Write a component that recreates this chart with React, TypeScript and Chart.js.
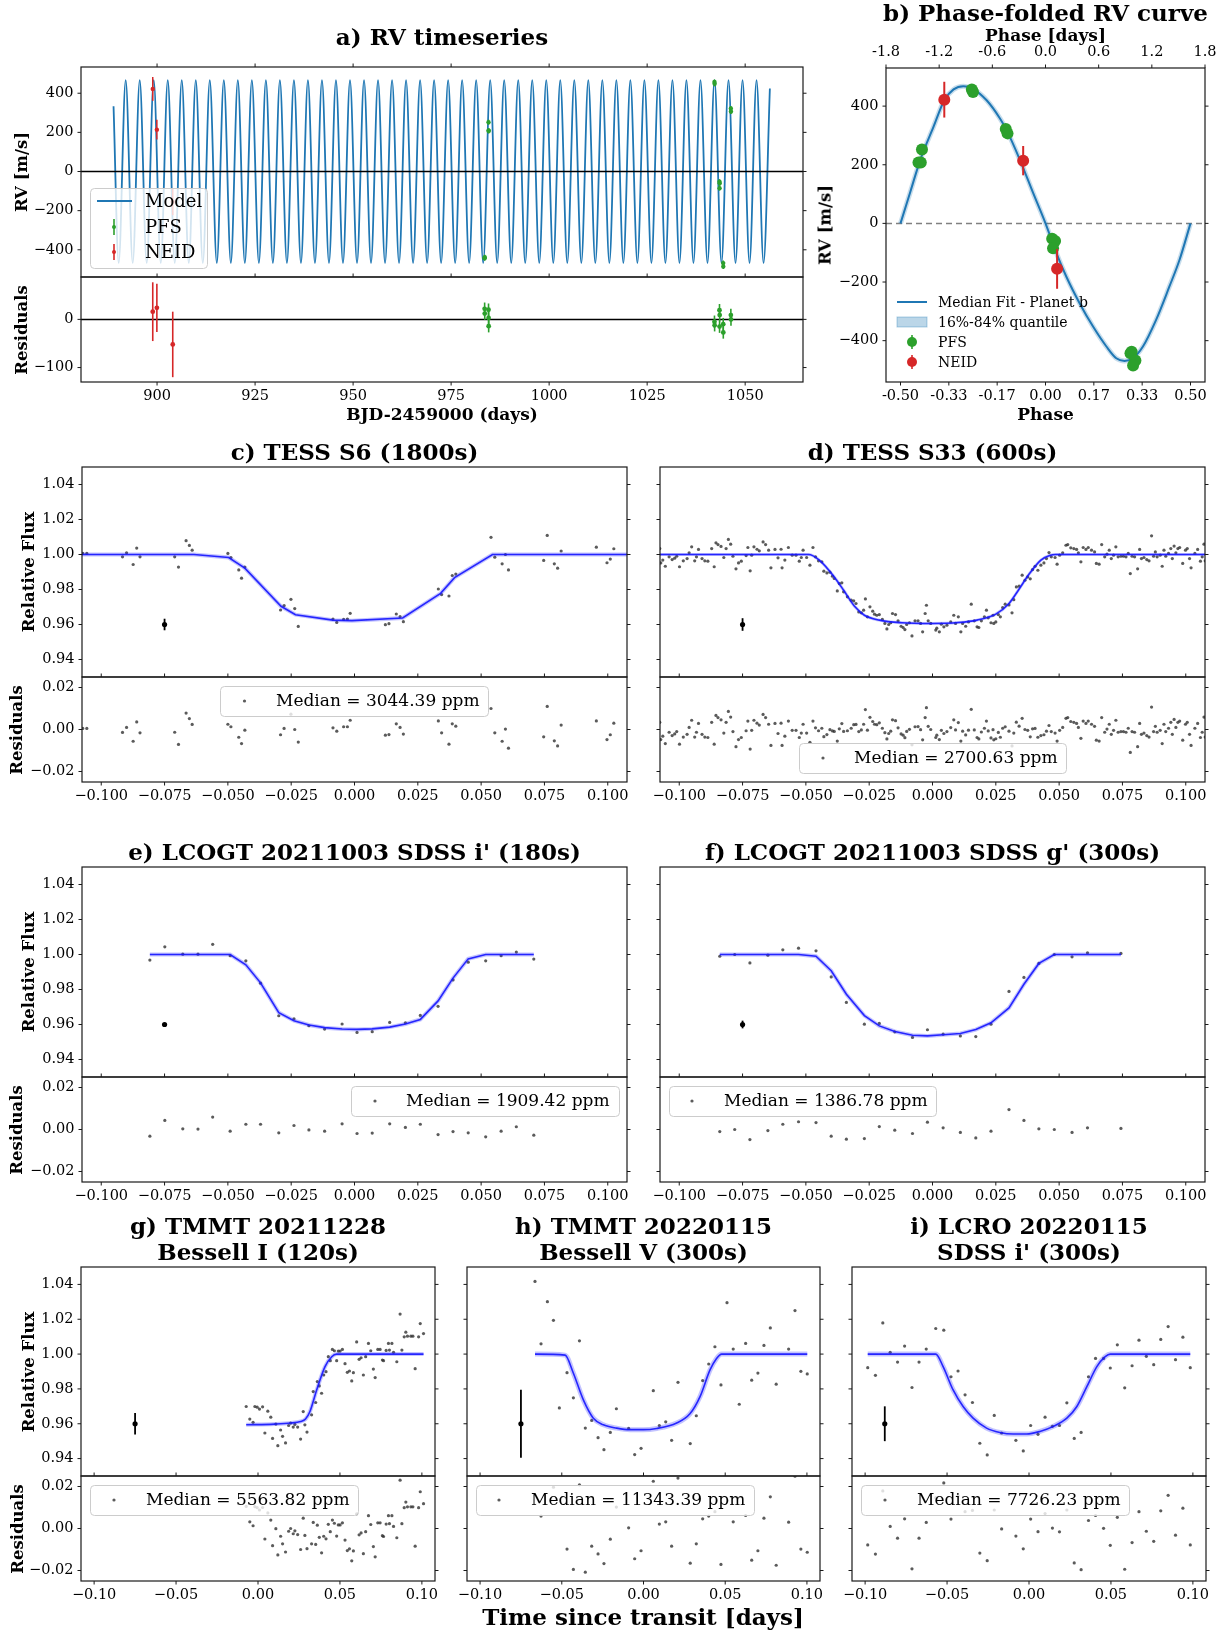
import React, { useEffect, useRef } from "react";
import { Chart, registerables } from "chart.js";

Chart.register(...registerables);

const SERIF = "'DejaVu Serif', 'Liberation Serif', serif";
const C0 = "#1f77b4";
const GREEN = "#2ca02c";
const RED = "#d62728";
const DOT = "rgba(45,45,45,0.78)";
const MODEL = "rgba(20,20,255,0.9)";
const BAND = "rgba(40,40,255,0.28)";

// ---------------- a) RV timeseries ----------------
const aXTicks = [900, 925, 950, 975, 1000, 1025, 1050];
const aYTicks = [-400, -200, 0, 200, 400];
const aResTicks = [-100, 0];
const aModelT = [888.90, 890.21,
  892.00, 893.79, 895.58, 897.36, 899.15, 900.94, 902.73, 904.51, 906.30, 908.09,
  909.88, 911.67, 913.45, 915.24, 917.03, 918.82, 920.60, 922.39, 924.18, 925.97,
  927.76, 929.54, 931.33, 933.12, 934.91, 936.70, 938.48, 940.27, 942.06, 943.85,
  945.63, 947.42, 949.21, 951.00, 952.79, 954.57, 956.36, 958.15, 959.94, 961.72,
  963.51, 965.30, 967.09, 968.88, 970.66, 972.45, 974.24, 976.03, 977.81, 979.60,
  981.39, 983.18, 984.97, 986.75, 988.54, 990.33, 992.12, 993.90, 995.69, 997.48,
  999.27, 1001.06, 1002.84, 1004.63, 1006.42, 1008.21, 1009.99, 1011.78, 1013.57, 1015.36,
  1017.15, 1018.93, 1020.72, 1022.51, 1024.30, 1026.09, 1027.87, 1029.66, 1031.45, 1033.24,
  1035.02, 1036.81, 1038.60, 1040.39, 1042.18, 1043.96, 1045.75, 1047.54, 1049.33, 1051.11,
  1052.90, 1054.69, 1056.30];
const aModelRV = [333, -467,
  467, -467, 467, -467, 467, -467, 467, -467, 467, -467,
  467, -467, 467, -467, 467, -467, 467, -467, 467, -467,
  467, -467, 467, -467, 467, -467, 467, -467, 467, -467,
  467, -467, 467, -467, 467, -467, 467, -467, 467, -467,
  467, -467, 467, -467, 467, -467, 467, -467, 467, -467,
  467, -467, 467, -467, 467, -467, 467, -467, 467, -467,
  467, -467, 467, -467, 467, -467, 467, -467, 467, -467,
  467, -467, 467, -467, 467, -467, 467, -467, 467, -467,
  467, -467, 467, -467, 467, -467, 467, -467, 467, -467,
  467, -467, 424];

const pfsT = [983.55, 983.58, 984.54, 984.56, 984.58, 1042.17, 1042.21, 1043.45, 1043.50, 1043.47, 1044.40, 1044.42, 1046.35, 1046.38];
const pfsRV = [-443, -438, 252, 208, 208, 457, 448, -52, -60, -85, -468, -485, 322, 307];
const pfsErr = [13, 13, 13, 13, 13, 13, 13, 13, 13, 13, 13, 13, 13, 13];
const pfsRes = [22, 12, 20, 3, -14, -5, -12, 19, 9, -15, -10, -27, 9, 0];
const pfsPhase = [0.293, 0.297, -0.426, -0.438, -0.430, -0.254, -0.250, 0.023, 0.033, 0.026, 0.310, 0.302, -0.137, -0.131];

const neidT = [898.9, 899.95, 904.0];
const neidRV = [422, 214, -155];
const neidErr = [61, 50, 68];
const neidRes = [16, 24, -52];
const neidPhase = [-0.349, -0.077, 0.040];

// ---------------- b) phase folded ----------------
const bPhase = [-0.500, -0.466, -0.432, -0.386, -0.349, -0.317, -0.283, -0.252, -0.203, -0.157, -0.134, -0.088, -0.042, 0.000,
  0.038, 0.072, 0.118, 0.164, 0.210, 0.244, 0.273, 0.301, 0.336, 0.381, 0.427, 0.462, 0.500];
const bRV = [0, 108, 216, 330, 420, 457, 468, 460, 420, 358, 318, 216, 102, 0,
  -102, -182, -273, -352, -420, -460, -469, -460, -420, -330, -216, -125, 0];
const bXTicks = [-0.5, -0.3333, -0.1667, 0, 0.1667, 0.3333, 0.5];
const bTopTicks = [-1.8, -1.2, -0.6, 0, 0.6, 1.2, 1.8];
const bYTicks = [-400, -200, 0, 200, 400];

// ---------------- light curves ----------------
const lcTicksWide = [-0.1, -0.075, -0.05, -0.025, 0, 0.025, 0.05, 0.075, 0.1];
const lcTicksNarrow = [-0.1, -0.05, 0, 0.05, 0.1];
const fluxTicks = [0.94, 0.96, 0.98, 1.0, 1.02, 1.04];
const resTicks = [-0.02, 0, 0.02];

// c) TESS S6
const cT = [-0.1073, -0.1057, -0.0916, -0.0900, -0.0874, -0.0860, -0.0847, -0.0710, -0.0695, -0.0665, -0.0652, -0.0641,
  -0.0500, -0.0488, -0.0457, -0.0446, -0.0433, -0.0292, -0.0278, -0.0251, -0.0236, -0.0222, -0.0085, -0.0070, -0.0043,
  -0.0028, -0.0017, 0.0122, 0.0136, 0.0165, 0.0180, 0.0193, 0.0331, 0.0344, 0.0373, 0.0386, 0.0400, 0.0539, 0.0554,
  0.0583, 0.0596, 0.0608, 0.0747, 0.0761, 0.0789, 0.0802, 0.0816, 0.0955, 0.0997, 0.1010, 0.1024];
const cF = [1.0006, 1.0006, 0.9987, 1.0010, 0.9943, 1.0037, 0.9987, 0.9987, 0.9928, 1.0079, 1.0052, 1.0025,
  1.0006, 0.9983, 0.9912, 0.9865, 0.9928, 0.9683, 0.9708, 0.9744, 0.9691, 0.9589, 0.9631, 0.9612, 0.9629,
  0.9631, 0.9664, 0.9599, 0.9605, 0.9660, 0.9645, 0.9616, 0.9803, 0.9771, 0.9763, 0.9880, 0.9888, 1.0098, 0.9985,
  0.9947, 1.0000, 0.9912, 0.9966, 1.0109, 0.9947, 0.9922, 1.0020, 1.0042, 0.9953, 0.9974, 1.0033];
const cR = [0.0005, 0.0005, -0.0014, 0.0010, -0.0056, 0.0036, -0.0016, -0.0013, -0.0071, 0.0078, 0.0052, 0.0024,
  0.0025, 0.0013, -0.0037, -0.0067, -0.0003, -0.0025, 0.0005, 0.0073, 0.0000, -0.0060, 0.0008, -0.0008, 0.0013,
  0.0013, 0.0044, -0.0027, -0.0024, 0.0027, 0.0010, -0.0022, 0.0041, -0.0016, -0.0070, 0.0027, 0.0016, 0.0100, -0.0016,
  -0.0056, 0.0002, -0.0089, -0.0035, 0.0110, -0.0054, -0.0078, 0.0021, 0.0041, -0.0048, -0.0025, 0.0030];
const cMT = [-0.1076, -0.0634, -0.0497, -0.0433, -0.0290, -0.0233, -0.0085, -0.0010, 0.0190, 0.0340, 0.0395, 0.0545, 0.1076];
const cMF = [1.0, 1.0, 0.9983, 0.9922, 0.9704, 0.9656, 0.9625, 0.9622, 0.9637, 0.9778, 0.9868, 1.0, 1.0];

// d) TESS S33
const dT = [-0.1077, -0.1073, -0.1065, -0.1055, -0.1040, -0.1028, -0.1018, -0.1010, -0.0999, -0.0984,
  -0.0969, -0.0961, -0.0951, -0.0939, -0.0932, -0.0924, -0.0910, -0.0899, -0.0887, -0.0872,
  -0.0862, -0.0855, -0.0847, -0.0835, -0.0824, -0.0815, -0.0806, -0.0797, -0.0788, -0.0776,
  -0.0766, -0.0755, -0.0736, -0.0729, -0.0720, -0.0714, -0.0705, -0.0693, -0.0684, -0.0669,
  -0.0659, -0.0647, -0.0638, -0.0622, -0.0610, -0.0598, -0.0594, -0.0583, -0.0569, -0.0554,
  -0.0539, -0.0526, -0.0518, -0.0511, -0.0497, -0.0484, -0.0472, -0.0462, -0.0450, -0.0437,
  -0.0429, -0.0417, -0.0405, -0.0395, -0.0388, -0.0376, -0.0368, -0.0358, -0.0351, -0.0336,
  -0.0321, -0.0311, -0.0302, -0.0291, -0.0281, -0.0272, -0.0265, -0.0257, -0.0247, -0.0236,
  -0.0229, -0.0220, -0.0210, -0.0198, -0.0188, -0.0180, -0.0173, -0.0165, -0.0158, -0.0146,
  -0.0136, -0.0124, -0.0116, -0.0109, -0.0102, -0.0091, -0.0081, -0.0069, -0.0057, -0.0047,
  -0.0039, -0.0029, -0.0024, -0.0017, -0.0007, 0.0013, 0.0017, 0.0027, 0.0035, 0.0045,
  0.0057, 0.0072, 0.0084, 0.0091, 0.0102, 0.0112, 0.0119, 0.0131, 0.0142, 0.0153,
  0.0165, 0.0176, 0.0183, 0.0193, 0.0205, 0.0213, 0.0220, 0.0231, 0.0239, 0.0242,
  0.0250, 0.0260, 0.0268, 0.0277, 0.0287, 0.0302, 0.0314, 0.0321, 0.0331, 0.0342,
  0.0354, 0.0365, 0.0376, 0.0386, 0.0395, 0.0405, 0.0416, 0.0428, 0.0440, 0.0450,
  0.0460, 0.0469, 0.0484, 0.0492, 0.0502, 0.0514, 0.0527, 0.0534, 0.0546, 0.0558,
  0.0569, 0.0576, 0.0586, 0.0595, 0.0606, 0.0615, 0.0628, 0.0640, 0.0647, 0.0658,
  0.0668, 0.0680, 0.0689, 0.0698, 0.0706, 0.0715, 0.0724, 0.0733, 0.0744, 0.0754,
  0.0764, 0.0773, 0.0781, 0.0788, 0.0798, 0.0810, 0.0818, 0.0825, 0.0835, 0.0846,
  0.0855, 0.0865, 0.0873, 0.0880, 0.0887, 0.0899, 0.0907, 0.0914, 0.0921, 0.0932,
  0.0941, 0.0947, 0.0954, 0.0961, 0.0969, 0.0976, 0.0988, 0.0999, 0.1006, 0.1015,
  0.1021, 0.1036, 0.1047, 0.1058, 0.1065, 0.1072, 0.1077];
const dF = [1.0034, 0.9952, 0.9968, 0.9933, 0.9987, 0.9971, 0.9979, 0.9990, 0.9930, 0.9964,
  0.9977, 1.0010, 1.0044, 0.9964, 0.9987, 1.0029, 0.9977, 0.9964, 0.9962, 1.0034,
  0.9930, 1.0067, 1.0057, 1.0046, 0.9983, 1.0034, 1.0086, 1.0059, 0.9990, 0.9918,
  0.9952, 0.9962, 0.9994, 1.0040, 0.9907, 0.9996, 1.0044, 1.0030, 1.0021, 1.0072,
  1.0057, 1.0025, 0.9924, 1.0029, 0.9981, 1.0030, 0.9924, 0.9968, 1.0040, 0.9996,
  0.9996, 0.9962, 0.9983, 1.0025, 0.9983, 0.9939, 1.0040, 0.9987, 0.9964, 0.9958,
  0.9905, 0.9895, 0.9899, 0.9876, 0.9863, 0.9792, 0.9834, 0.9838, 0.9787, 0.9758,
  0.9739, 0.9735, 0.9720, 0.9672, 0.9667, 0.9682, 0.9746, 0.9644, 0.9701, 0.9676,
  0.9659, 0.9653, 0.9657, 0.9629, 0.9606, 0.9575, 0.9600, 0.9610, 0.9663, 0.9657,
  0.9621, 0.9590, 0.9583, 0.9571, 0.9600, 0.9610, 0.9535, 0.9621, 0.9621, 0.9606,
  0.9558, 0.9663, 0.9710, 0.9621, 0.9606, 0.9568, 0.9579, 0.9558, 0.9602, 0.9587,
  0.9596, 0.9615, 0.9653, 0.9606, 0.9644, 0.9558, 0.9606, 0.9590, 0.9615, 0.9716,
  0.9621, 0.9587, 0.9583, 0.9621, 0.9644, 0.9682, 0.9638, 0.9610, 0.9653, 0.9606,
  0.9615, 0.9657, 0.9644, 0.9697, 0.9716, 0.9712, 0.9667, 0.9742, 0.9815, 0.9819,
  0.9882, 0.9853, 0.9872, 0.9861, 0.9914, 0.9933, 0.9910, 0.9939, 0.9952, 0.9977,
  1.0011, 0.9987, 0.9983, 0.9945, 0.9996, 1.0010, 1.0053, 1.0057, 1.0038, 1.0034,
  1.0029, 1.0010, 0.9958, 1.0040, 1.0029, 1.0040, 1.0025, 1.0015, 0.9949, 0.9945,
  1.0057, 0.9987, 1.0002, 1.0025, 0.9977, 0.9996, 1.0044, 0.9987, 0.9990, 0.9990,
  0.9987, 1.0006, 0.9891, 0.9990, 0.9987, 0.9918, 1.0029, 0.9977, 0.9983, 0.9971,
  0.9964, 1.0107, 0.9990, 1.0015, 0.9987, 0.9996, 0.9933, 1.0025, 0.9990, 1.0006,
  1.0034, 0.9977, 1.0048, 1.0010, 1.0034, 1.0040, 0.9949, 1.0025, 1.0034, 0.9977,
  0.9924, 1.0006, 1.0029, 0.9962, 0.9987, 1.0059, 0.9964];
const dR = [0.0034, -0.0048, -0.0032, -0.0067, -0.0013, -0.0029, -0.0021, -0.0010, -0.0070, -0.0036,
  -0.0023, 0.0010, 0.0044, -0.0036, -0.0013, 0.0029, -0.0023, -0.0036, -0.0038, 0.0034,
  -0.0070, 0.0067, 0.0057, 0.0046, -0.0017, 0.0034, 0.0086, 0.0059, -0.0010, -0.0082,
  -0.0048, -0.0038, -0.0006, 0.0040, -0.0093, -0.0004, 0.0044, 0.0030, 0.0021, 0.0072,
  0.0057, 0.0025, -0.0076, 0.0029, -0.0019, 0.0030, -0.0076, -0.0032, 0.0040, -0.0004,
  -0.0004, -0.0038, -0.0017, 0.0025, -0.0017, -0.0061, 0.0040, 0.0008, -0.0006, 0.0006,
  -0.0034, -0.0024, -0.0001, -0.0007, -0.0009, -0.0055, 0.0003, 0.0028, -0.0009, -0.0006,
  0.0006, 0.0023, 0.0024, -0.0010, -0.0002, 0.0025, 0.0095, -0.0003, 0.0058, 0.0038,
  0.0025, 0.0023, 0.0032, 0.0006, -0.0015, -0.0045, -0.0019, -0.0008, 0.0046, 0.0042,
  0.0008, -0.0021, -0.0027, -0.0039, -0.0009, 0.0001, -0.0073, 0.0013, 0.0014, -0.0001,
  -0.0049, 0.0057, 0.0104, 0.0015, 0.0000, -0.0038, -0.0027, -0.0048, -0.0004, -0.0019,
  -0.0010, 0.0009, 0.0046, -0.0002, 0.0033, -0.0055, -0.0008, -0.0026, -0.0003, 0.0096,
  -0.0002, -0.0038, -0.0045, -0.0012, 0.0006, 0.0040, -0.0007, -0.0040, -0.0001, -0.0049,
  -0.0044, -0.0014, -0.0037, 0.0006, 0.0013, -0.0008, -0.0078, -0.0017, 0.0035, 0.0016,
  0.0053, 0.0000, -0.0004, -0.0035, 0.0003, 0.0005, -0.0037, -0.0029, -0.0025, -0.0008,
  0.0019, -0.0010, -0.0017, -0.0055, -0.0004, 0.0010, 0.0053, 0.0057, 0.0038, 0.0034,
  0.0029, 0.0010, -0.0042, 0.0040, 0.0029, 0.0040, 0.0025, 0.0015, -0.0051, -0.0055,
  0.0057, -0.0013, 0.0002, 0.0025, -0.0023, -0.0004, 0.0044, -0.0013, -0.0010, -0.0010,
  -0.0013, 0.0006, -0.0109, -0.0010, -0.0013, -0.0082, 0.0029, -0.0023, -0.0017, -0.0029,
  -0.0036, 0.0107, -0.0010, 0.0015, -0.0013, -0.0004, -0.0067, 0.0025, -0.0010, 0.0006,
  0.0034, -0.0023, 0.0048, 0.0010, 0.0034, 0.0040, -0.0051, 0.0025, 0.0034, -0.0023,
  -0.0076, 0.0006, 0.0029, -0.0038, -0.0013, 0.0059, -0.0036];
const dMT = [-0.1077, -0.0490, -0.0447, -0.0388, -0.0351, -0.0306, -0.0269, -0.0210, -0.0121, -0.0002, 0.0102, 0.0176,
  0.0250, 0.0302, 0.0339, 0.0383, 0.0428, 0.0465, 0.0487, 0.1077];
const dMF = [1.0, 1.0, 0.9968, 0.9872, 0.9796, 0.9701, 0.9653, 0.9625, 0.9610, 0.9606, 0.9611, 0.9625,
  0.9659, 0.9720, 0.9796, 0.9891, 0.9968, 0.9996, 1.0, 1.0];

// e) LCOGT i'
const eT = [-0.0808, -0.0749, -0.0678, -0.0618, -0.0560, -0.0491, -0.0429, -0.0371, -0.0299, -0.0239, -0.0180, -0.0118,
  -0.0049, 0.0010, 0.0070, 0.0139, 0.0201, 0.0260, 0.0330, 0.0389, 0.0449, 0.0518, 0.0579, 0.0639, 0.0708];
const eF = [0.9968, 1.0044, 1.0002, 1.0002, 1.0058, 0.9993, 0.9964, 0.9836, 0.9650, 0.9633, 0.9593, 0.9574,
  0.9603, 0.9555, 0.9559, 0.9612, 0.9610, 0.9652, 0.9704, 0.9855, 0.9956, 0.9964, 0.9993, 1.0014, 0.9974];
const eR = [-0.0032, 0.0043, 0.0003, 0.0002, 0.0059, -0.0008, 0.0025, 0.0025, -0.0016, 0.0019, -0.0002, -0.0008,
  0.0027, -0.0019, -0.0017, 0.0027, 0.0010, 0.0025, -0.0024, -0.0010, -0.0016, -0.0035, -0.0008, 0.0013, -0.0027];
const eMT = [-0.0808, -0.0491, -0.0429, -0.0371, -0.0299, -0.0239, -0.0180, -0.0118, -0.0049, 0.0010, 0.0070, 0.0139,
  0.0201, 0.0260, 0.0330, 0.0389, 0.0449, 0.0518, 0.0708];
const eMF = [1.0, 1.0, 0.9941, 0.9838, 0.9668, 0.9622, 0.9597, 0.9582, 0.9574, 0.9572, 0.9575, 0.9585,
  0.9603, 0.9629, 0.9735, 0.9865, 0.9975, 1.0, 1.0];

// f) LCOGT g'
const fT = [-0.0840, -0.0781, -0.0721, -0.0650, -0.0591, -0.0529, -0.0460, -0.0400, -0.0340, -0.0269, -0.0210, -0.0149,
  -0.0079, -0.0020, 0.0042, 0.0110, 0.0171, 0.0231, 0.0302, 0.0361, 0.0420, 0.0481, 0.0551, 0.0612, 0.0744];
const fF = [0.9990, 1.0000, 0.9952, 0.9996, 1.0027, 1.0036, 1.0021, 0.9872, 0.9726, 0.9602, 0.9606, 0.9558,
  0.9526, 0.9570, 0.9545, 0.9535, 0.9531, 0.9602, 0.9789, 0.9869, 0.9949, 1.0000, 0.9987, 1.0010, 1.0006];
const fR = [-0.0010, 0.0000, -0.0048, -0.0005, 0.0025, 0.0037, 0.0033, -0.0032, -0.0046, -0.0043, 0.0014, -0.0003,
  -0.0019, 0.0035, 0.0008, -0.0014, -0.0040, -0.0008, 0.0095, 0.0043, 0.0003, 0.0000, -0.0014, 0.0008, 0.0005];
const fMT = [-0.0840, -0.0529, -0.0460, -0.0400, -0.0340, -0.0269, -0.0210, -0.0149, -0.0079, -0.0020, 0.0042, 0.0110,
  0.0171, 0.0231, 0.0302, 0.0361, 0.0420, 0.0481, 0.0744];
const fMF = [1.0, 1.0, 0.9990, 0.9907, 0.9773, 0.9651, 0.9592, 0.9560, 0.9539, 0.9535, 0.9541, 0.9549,
  0.9571, 0.9610, 0.9695, 0.9830, 0.9949, 1.0, 1.0];

// g) TMMT 20211228
const gT = [-0.0072, -0.0050, -0.0030, -0.0019, -0.0005, 0.0009, 0.0028, 0.0042, 0.0060, 0.0078,
  0.0089, 0.0109, 0.0121, 0.0138, 0.0150, 0.0168, 0.0187, 0.0199, 0.0215, 0.0225,
  0.0242, 0.0260, 0.0276, 0.0286, 0.0299, 0.0327, 0.0337, 0.0352, 0.0362, 0.0374,
  0.0388, 0.0401, 0.0415, 0.0429, 0.0441, 0.0454, 0.0466, 0.0480, 0.0490, 0.0501,
  0.0515, 0.0531, 0.0545, 0.0558, 0.0572, 0.0582, 0.0602, 0.0617, 0.0629, 0.0643,
  0.0657, 0.0674, 0.0688, 0.0704, 0.0715, 0.0731, 0.0745, 0.0759, 0.0766, 0.0782,
  0.0796, 0.0802, 0.0817, 0.0827, 0.0847, 0.0867, 0.0878, 0.0892, 0.0902, 0.0912,
  0.0933, 0.0945, 0.0959, 0.0980, 0.0990, 0.1010];
const gF = [0.9699, 0.9627, 0.9608, 0.9699, 0.9695, 0.9684, 0.9697, 0.9547, 0.9672, 0.9638,
  0.9516, 0.9598, 0.9474, 0.9564, 0.9528, 0.9490, 0.9590, 0.9604, 0.9581, 0.9596,
  0.9581, 0.9512, 0.9670, 0.9594, 0.9552, 0.9651, 0.9785, 0.9722, 0.9842, 0.9817,
  0.9775, 0.9880, 0.9899, 0.9985, 0.9962, 1.0027, 1.0019, 0.9962, 1.0017, 1.0017,
  1.0027, 0.9945, 0.9895, 0.9903, 0.9846, 0.9893, 1.0070, 0.9970, 0.9979, 0.9880,
  0.9985, 1.0061, 1.0019, 0.9914, 0.9865, 1.0027, 1.0027, 0.9966, 0.9962, 1.0021,
  1.0061, 1.0023, 1.0061, 1.0010, 0.9956, 1.0230, 1.0023, 1.0099, 1.0126, 1.0103,
  1.0103, 1.0103, 0.9916, 1.0099, 1.0175, 1.0118];
const gR = [0.0105, 0.0032, 0.0013, 0.0104, 0.0099, 0.0088, 0.0100, -0.0050, 0.0074, 0.0040,
  -0.0082, -0.0001, -0.0126, -0.0037, -0.0073, -0.0112, -0.0013, 0.0000, -0.0025, -0.0011,
  -0.0029, -0.0100, 0.0049, -0.0033, -0.0096, -0.0073, 0.0029, -0.0076, 0.0016, -0.0042,
  -0.0116, -0.0037, -0.0049, 0.0020, -0.0015, 0.0040, 0.0025, -0.0036, 0.0017, 0.0017,
  0.0027, -0.0055, -0.0105, -0.0097, -0.0154, -0.0107, 0.0070, -0.0030, -0.0021, -0.0120,
  -0.0015, 0.0061, 0.0019, -0.0086, -0.0135, 0.0027, 0.0027, -0.0034, -0.0038, 0.0021,
  0.0061, 0.0023, 0.0061, 0.0010, -0.0044, 0.0230, 0.0023, 0.0099, 0.0126, 0.0103,
  0.0103, 0.0103, -0.0084, 0.0099, 0.0175, 0.0118];
const gMT = [-0.0072, 0.0100, 0.0200, 0.0260, 0.0290, 0.0317, 0.0358, 0.0409, 0.0450, 0.0480, 0.1010];
const gMF = [0.9594, 0.9598, 0.9604, 0.9613, 0.9627, 0.9670, 0.9794, 0.9928, 0.9985, 1.0, 1.0];

// h) TMMT 20220115
const hT = [-0.0664, -0.0627, -0.0588, -0.0551, -0.0515, -0.0468, -0.0429, -0.0392, -0.0356, -0.0317,
  -0.0278, -0.0242, -0.0203, -0.0166, -0.0091, -0.0054, -0.0015, 0.0060, 0.0097, 0.0136,
  0.0172, 0.0211, 0.0286, 0.0323, 0.0362, 0.0399, 0.0437, 0.0474, 0.0511, 0.0549,
  0.0586, 0.0625, 0.0662, 0.0700, 0.0737, 0.0776, 0.0812, 0.0888, 0.0927, 0.0963, 0.1002];
const hF = [1.0417, 1.0059, 1.0301, 1.0194, 0.9691, 0.9893, 0.9749, 1.0076, 0.9575, 0.9619,
  0.9520, 0.9451, 0.9550, 0.9686, 0.9573, 0.9423, 0.9459, 0.9790, 0.9590, 0.9611,
  0.9505, 0.9838, 0.9486, 0.9646, 0.9848, 0.9943, 1.0042, 0.9823, 1.0295, 1.0029,
  0.9712, 1.0061, 0.9850, 0.9891, 1.0050, 1.0150, 0.9827, 1.0029, 1.0250, 0.9901, 0.9886];
const hR = [0.0417, 0.0059, 0.0301, 0.0197, -0.0309, -0.0098, -0.0195, 0.0208, -0.0208, -0.0084,
  -0.0121, -0.0167, -0.0051, 0.0102, 0.0003, -0.0144, -0.0106, 0.0225, 0.0021, 0.0032,
  -0.0084, 0.0240, -0.0165, -0.0073, 0.0046, 0.0059, 0.0080, -0.0171, 0.0295, 0.0032,
  -0.0288, 0.0062, -0.0151, -0.0106, 0.0049, 0.0151, -0.0175, 0.0030, 0.0249, -0.0098, -0.0113];
const hMT = [-0.0664, -0.0480, -0.0429, -0.0368, -0.0307, -0.0246, -0.0164, -0.0083, -0.0001, 0.0081, 0.0203, 0.0284,
  0.0346, 0.0407, 0.0447, 0.0478, 0.1002];
const hMF = [1.0, 0.9994, 0.9890, 0.9737, 0.9632, 0.9594, 0.9575, 0.9566, 0.9566, 0.9573, 0.9604, 0.9657,
  0.9756, 0.9909, 0.9975, 1.0, 1.0];

// i) LCRO 20220115
const iT = [-0.0984, -0.0937, -0.0892, -0.0847, -0.0802, -0.0759, -0.0714, -0.0671, -0.0627, -0.0569,
  -0.0520, -0.0476, -0.0433, -0.0390, -0.0345, -0.0300, -0.0255, -0.0212, -0.0167, -0.0080,
  -0.0035, 0.0010, 0.0055, 0.0098, 0.0143, 0.0186, 0.0231, 0.0276, 0.0318, 0.0363,
  0.0406, 0.0455, 0.0496, 0.0539, 0.0584, 0.0629, 0.0671, 0.0716, 0.0761, 0.0804,
  0.0849, 0.0894, 0.0939, 0.0984];
const iF = [0.9922, 0.9878, 1.0179, 1.0010, 0.9954, 1.0046, 0.9808, 0.9954, 1.0029, 1.0147,
  1.0137, 0.9870, 0.9903, 0.9766, 0.9722, 0.9488, 0.9421, 0.9648, 0.9547, 0.9505,
  0.9444, 0.9590, 0.9539, 0.9638, 0.9585, 0.9590, 0.9720, 0.9516, 0.9550, 0.9870,
  0.9975, 0.9975, 0.9920, 1.0053, 0.9806, 0.9933, 1.0080, 0.9987, 0.9939, 1.0084,
  1.0158, 0.9968, 1.0097, 0.9922];
const iR = [-0.0078, -0.0122, 0.0179, 0.0010, -0.0046, 0.0046, -0.0192, -0.0046, 0.0029, 0.0147,
  0.0217, 0.0045, 0.0156, 0.0080, 0.0086, -0.0117, -0.0153, 0.0088, -0.0002, -0.0036,
  -0.0097, 0.0045, -0.0015, 0.0071, 0.0002, -0.0016, 0.0088, -0.0164, -0.0196, 0.0038,
  0.0062, 0.0001, -0.0080, 0.0053, -0.0194, -0.0067, 0.0080, -0.0013, -0.0061, 0.0084,
  0.0158, -0.0032, 0.0097, -0.0078];
const iMT = [-0.0984, -0.0569, -0.0524, -0.0463, -0.0402, -0.0341, -0.0259, -0.0178, -0.0096, -0.0014, 0.0067, 0.0149,
  0.0231, 0.0292, 0.0353, 0.0414, 0.0465, 0.0496, 0.0984];
const iMF = [1.0, 1.0, 0.9928, 0.9794, 0.9699, 0.9632, 0.9575, 0.9550, 0.9541, 0.9541, 0.9556, 0.9585,
  0.9632, 0.9699, 0.9813, 0.9928, 0.9985, 1.0, 1.0];

// typical error markers (panels c..i)
const typErrT = [-0.075, -0.075, -0.075, -0.075, -0.075, -0.075, -0.088];
const typErrF = [0.96, 0.96, 0.96, 0.96, 0.96, 0.96, 0.96];
const typErrSize = [0.0033, 0.0036, 0.0008, 0.0022, 0.0062, 0.0195, 0.0100];
const medianText = ["Median = 3044.39 ppm", "Median = 2700.63 ppm", "Median = 1909.42 ppm", "Median = 1386.78 ppm",
  "Median = 5563.82 ppm", "Median = 11343.39 ppm", "Median = 7726.23 ppm"];

const LC_T = [cT, dT, eT, fT, gT, hT, iT];
const LC_F = [cF, dF, eF, fF, gF, hF, iF];
const LC_R = [cR, dR, eR, fR, gR, hR, iR];
const LC_MT = [cMT, dMT, eMT, fMT, gMT, hMT, iMT];
const LC_MF = [cMF, dMF, eMF, fMF, gMF, hMF, iMF];

// ---------------- layout (page pixels) ----------------
const LC_BOX = [
  { l: 82, r: 627, t: 467, m: 677, b: 782 },
  { l: 660, r: 1205, t: 467, m: 677, b: 782 },
  { l: 82, r: 627, t: 867, m: 1077, b: 1182 },
  { l: 660, r: 1205, t: 867, m: 1077, b: 1182 },
  { l: 81, r: 435, t: 1267, m: 1476, b: 1581 },
  { l: 467, r: 820, t: 1267, m: 1476, b: 1581 },
  { l: 852, r: 1206, t: 1267, m: 1476, b: 1581 },
];
const LEG_BOX = [
  [220, 686, 488, 716, 244.5, 276],
  [799, 743, 1066, 773, 823, 854],
  [351, 1086, 619, 1116, 375, 406],
  [669, 1086, 936, 1116, 692, 724],
  [90, 1485, 358, 1515, 114, 146],
  [476, 1485, 754, 1515, 499, 531],
  [861, 1485, 1129, 1515, 885, 917],
];
const LC_SMOOTH = [false, true, false, false, true, true, true];
const LC_BAND = [4, 3, 4, 4, 4, 5, 5];

// ---------------- helpers ----------------
const pts = (xs: number[], ys: number[]) => xs.map((x, i) => ({ x, y: ys[i] }));
const mfmt = (s: string) => s.replace("-", "\u2212");
const fInt = (v: number) => mfmt(String(v));
const f2 = (v: number) => mfmt(v.toFixed(2));
const f3 = (v: number) => mfmt(v.toFixed(3));
const h2 = (v: number) => v.toFixed(2);
const h1 = (v: number) => v.toFixed(1);

type Item = { kind: string; color: string; text: string; mx: number; tx: number; y: number; r?: number; e?: number; len?: number };
type Legend = { box?: number[]; font: string; items: Item[] };
type Spec = {
  l: number; t: number; r: number; b: number;
  x: [number, number]; y: [number, number];
  xt: number[]; yt: number[];
  xf?: (v: number) => string; yf?: (v: number) => string;
  sides: string;
  x2?: { range: [number, number]; ticks: number[]; f: (v: number) => string };
  datasets: any[];
  hline?: { y: number; color: string; width: number; dash?: number[]; over?: boolean };
  legend?: Legend;
};

const TICK_FONT = 14.5;
const ML = 72, MR = 36, MB = 34;
function geom(s: Spec) {
  const MT = s.x2 ? 36 : 24;
  const W = s.r - s.l + ML + MR;
  const H = s.b - s.t + MT + MB;
  return { MT, W, H, ox: s.l - ML, oy: s.t - MT };
}

function drawH(chart: any, h: any) {
  const { ctx, chartArea: ca } = chart;
  const py = chart.scales.y.getPixelForValue(h.y);
  ctx.save();
  ctx.strokeStyle = h.color;
  ctx.lineWidth = h.width;
  ctx.setLineDash(h.dash || []);
  ctx.beginPath();
  ctx.moveTo(ca.left, py);
  ctx.lineTo(ca.right, py);
  ctx.stroke();
  ctx.restore();
}

function drawLegend(ctx: any, L: Legend, ox: number, oy: number) {
  ctx.save();
  if (L.box) {
    const [bl, bt, br, bb] = L.box;
    ctx.beginPath();
    if (ctx.roundRect) ctx.roundRect(bl - ox + 0.5, bt - oy + 0.5, br - bl, bb - bt, 4);
    else ctx.rect(bl - ox + 0.5, bt - oy + 0.5, br - bl, bb - bt);
    ctx.fillStyle = "rgba(255,255,255,0.8)";
    ctx.fill();
    ctx.strokeStyle = "#cccccc";
    ctx.lineWidth = 1;
    ctx.stroke();
  }
  ctx.font = L.font;
  ctx.textBaseline = "middle";
  ctx.textAlign = "left";
  for (const it of L.items) {
    const x = it.mx - ox, y = it.y - oy, len = it.len || 30;
    if (it.kind === "line") {
      ctx.strokeStyle = it.color; ctx.lineWidth = 2;
      ctx.beginPath(); ctx.moveTo(x - len / 2, y); ctx.lineTo(x + len / 2, y); ctx.stroke();
    } else if (it.kind === "patch") {
      ctx.fillStyle = "rgba(31,119,180,0.3)";
      ctx.fillRect(x - len / 2, y - 5, len, 10);
      ctx.strokeStyle = "rgba(31,119,180,0.35)"; ctx.lineWidth = 1;
      ctx.strokeRect(x - len / 2, y - 5, len, 10);
    } else {
      if (it.kind === "err") {
        ctx.strokeStyle = it.color; ctx.lineWidth = 1.6;
        ctx.beginPath(); ctx.moveTo(x, y - (it.e || 0)); ctx.lineTo(x, y + (it.e || 0)); ctx.stroke();
      }
      ctx.fillStyle = it.color;
      ctx.beginPath(); ctx.arc(x, y, it.r || 1.6, 0, Math.PI * 2); ctx.fill();
    }
    ctx.fillStyle = "#000";
    ctx.fillText(it.text, it.tx - ox, y + 1);
  }
  ctx.restore();
}

function drawFrame(chart: any, s: Spec) {
  const { ctx, chartArea: ca } = chart;
  const xs = chart.scales.x, ys = chart.scales.y;
  const L = 3.5;
  ctx.save();
  ctx.strokeStyle = "#1a1a1a";
  ctx.lineWidth = 1;
  ctx.beginPath();
  for (const v of s.yt) {
    const py = ys.getPixelForValue(v);
    if (s.sides.includes("l")) { ctx.moveTo(ca.left - L, py); ctx.lineTo(ca.left, py); }
    if (s.sides.includes("r")) { ctx.moveTo(ca.right, py); ctx.lineTo(ca.right + L, py); }
  }
  for (const v of s.xt) {
    const px = xs.getPixelForValue(v);
    if (s.sides.includes("b")) { ctx.moveTo(px, ca.bottom); ctx.lineTo(px, ca.bottom + L); }
    if (s.sides.includes("t") && !s.x2) { ctx.moveTo(px, ca.top - L); ctx.lineTo(px, ca.top); }
  }
  if (s.x2) {
    for (const v of s.x2.ticks) {
      const px = chart.scales.x2.getPixelForValue(v);
      ctx.moveTo(px, ca.top - L); ctx.lineTo(px, ca.top);
    }
  }
  ctx.stroke();
  ctx.lineWidth = 1.2;
  ctx.strokeRect(ca.left, ca.top, ca.right - ca.left, ca.bottom - ca.top);
  ctx.restore();
}

function deco(s: Spec, g: any) {
  return {
    id: "deco",
    beforeDatasetsDraw(chart: any) {
      if (s.hline && !s.hline.over) drawH(chart, s.hline);
    },
    beforeDatasetDraw(chart: any, args: any) {
      const ds: any = chart.data.datasets[args.index];
      if (!ds.errs) return;
      const { ctx, chartArea: ca } = chart;
      const xs = chart.scales.x, ys = chart.scales.y;
      ctx.save();
      ctx.beginPath();
      ctx.rect(ca.left, ca.top, ca.right - ca.left, ca.bottom - ca.top);
      ctx.clip();
      ctx.strokeStyle = ds.errColor;
      ctx.lineWidth = ds.errWidth;
      ds.data.forEach((p: any, i: number) => {
        const px = xs.getPixelForValue(p.x);
        ctx.beginPath();
        ctx.moveTo(px, ys.getPixelForValue(p.y - ds.errs[i]));
        ctx.lineTo(px, ys.getPixelForValue(p.y + ds.errs[i]));
        ctx.stroke();
      });
      ctx.restore();
    },
    afterDatasetsDraw(chart: any) {
      if (s.hline && s.hline.over) drawH(chart, s.hline);
      if (s.legend) drawLegend(chart.ctx, s.legend, g.ox, g.oy);
    },
    afterDraw(chart: any) {
      drawFrame(chart, s);
    },
  };
}

function makeChart(canvas: HTMLCanvasElement, s: Spec) {
  const g = geom(s);
  const font = { family: SERIF, size: TICK_FONT };
  const tc = { font, color: "#000", autoSkip: false, maxRotation: 0, minRotation: 0 };
  const grid = { display: false, drawTicks: false, tickLength: 0 };
  const scales: any = {
    x: {
      type: "linear", position: "bottom", min: s.x[0], max: s.x[1], bounds: "data",
      display: !!s.xf,
      grid, border: { display: false },
      ticks: { ...tc, padding: 5.5, callback: (v: any) => (s.xf ? s.xf(Number(v)) : "") },
      afterBuildTicks: (sc: any) => { sc.ticks = s.xt.map((v) => ({ value: v })); },
      afterFit: (sc: any) => { if (s.xf) sc.height = MB; },
    },
    y: {
      type: "linear", position: "left", min: s.y[0], max: s.y[1], bounds: "data",
      grid, border: { display: false },
      ticks: { ...tc, display: !!s.yf, padding: 7.5, callback: (v: any) => (s.yf ? s.yf(Number(v)) : "") },
      afterBuildTicks: (sc: any) => { sc.ticks = s.yt.map((v) => ({ value: v })); },
      afterFit: (sc: any) => { sc.width = ML; },
    },
  };
  if (s.x2) {
    const x2 = s.x2;
    scales.x2 = {
      type: "linear", position: "top", min: x2.range[0], max: x2.range[1], bounds: "data",
      grid, border: { display: false },
      ticks: { ...tc, padding: 7, callback: (v: any) => x2.f(Number(v)) },
      afterBuildTicks: (sc: any) => { sc.ticks = x2.ticks.map((v) => ({ value: v })); },
      afterFit: (sc: any) => { sc.height = g.MT; },
    };
  }
  const datasets = s.datasets.map((d) => ({
    xAxisID: "x", yAxisID: "y", pointBorderWidth: 0, pointHoverRadius: 0, showLine: false, fill: false, ...d,
  }));
  return new Chart(canvas, {
    type: "scatter",
    data: { datasets },
    options: {
      animation: false,
      responsive: false,
      events: [],
      layout: { padding: { left: 0, right: MR, top: s.x2 ? 0 : g.MT, bottom: s.xf ? 0 : MB } },
      plugins: { legend: { display: false }, tooltip: { enabled: false }, title: { display: false } },
      scales,
    },
    plugins: [deco(s, g)],
  } as any);
}

// ---------------- specs ----------------
const aXR: [number, number] = [880.6, 1064.75];
const specs: Spec[] = [];

specs.push({
  l: 81, t: 67, r: 803, b: 277, x: aXR, y: [-539, 534], xt: aXTicks, yt: aYTicks, yf: fInt, sides: "lrt",
  hline: { y: 0, color: "#000", width: 1.5, over: true },
  datasets: [
    { data: pts(neidT, neidRV), pointRadius: 2.2, pointBackgroundColor: RED, errs: neidErr, errColor: RED, errWidth: 1.5 },
    { data: pts(pfsT, pfsRV), pointRadius: 2.2, pointBackgroundColor: GREEN, errs: pfsErr, errColor: GREEN, errWidth: 1.5 },
    { data: pts(aModelT, aModelRV), showLine: true, pointRadius: 0, borderColor: C0, borderWidth: 1.8, cubicInterpolationMode: "monotone" },
  ],
  legend: {
    box: [90, 188, 207, 268], font: "18px 'DejaVu Serif'",
    items: [
      { kind: "line", color: C0, text: "Model", mx: 114.5, tx: 145, y: 201, len: 35 },
      { kind: "err", color: GREEN, text: "PFS", mx: 114, tx: 145, y: 227, r: 2, e: 8 },
      { kind: "err", color: RED, text: "NEID", mx: 114, tx: 145, y: 252, r: 2, e: 8 },
    ],
  },
});
specs.push({
  l: 81, t: 277, r: 803, b: 382, x: aXR, y: [-130, 88], xt: aXTicks, yt: aResTicks, xf: (v) => String(v), yf: fInt, sides: "lrtb",
  hline: { y: 0, color: "#000", width: 1.5 },
  datasets: [
    { data: pts(neidT, neidRes), pointRadius: 2.4, pointBackgroundColor: RED, errs: neidErr, errColor: RED, errWidth: 1.6 },
    { data: pts(pfsT, pfsRes), pointRadius: 2.4, pointBackgroundColor: GREEN, errs: pfsErr, errColor: GREEN, errWidth: 1.6 },
  ],
});
specs.push({
  l: 886, t: 68, r: 1205, b: 382, x: [-0.55, 0.55], y: [-541, 530], xt: bXTicks, yt: bYTicks, xf: h2, yf: fInt, sides: "lrtb",
  x2: { range: [-1.8, 1.8], ticks: bTopTicks, f: h1 },
  hline: { y: 0, color: "#808080", width: 1.5, dash: [6, 4] },
  datasets: [
    { data: pts(neidPhase, neidRV), pointRadius: 6, pointBackgroundColor: RED, errs: neidErr, errColor: RED, errWidth: 2 },
    { data: pts(pfsPhase, pfsRV), pointRadius: 6, pointBackgroundColor: GREEN, errs: pfsErr, errColor: GREEN, errWidth: 2 },
    { data: pts(bPhase, bRV), showLine: true, pointRadius: 0, borderColor: C0, borderWidth: 2, cubicInterpolationMode: "monotone" },
    { data: pts(bPhase, bRV), showLine: true, pointRadius: 0, borderColor: "rgba(31,119,180,0.25)", borderWidth: 5, cubicInterpolationMode: "monotone" },
  ],
  legend: {
    font: "14px 'DejaVu Serif'",
    items: [
      { kind: "line", color: C0, text: "Median Fit - Planet b", mx: 912, tx: 938, y: 302, len: 30 },
      { kind: "patch", color: C0, text: "16%-84% quantile", mx: 912, tx: 938, y: 322, len: 30 },
      { kind: "err", color: GREEN, text: "PFS", mx: 912, tx: 938, y: 342, r: 5, e: 7 },
      { kind: "err", color: RED, text: "NEID", mx: 912, tx: 938, y: 362, r: 5, e: 7 },
    ],
  },
});

for (let i = 0; i < 7; i++) {
  const B = LC_BOX[i], Lg = LEG_BOX[i];
  const wide = i < 4;
  const xr: [number, number] = wide ? [-0.1076, 0.1076] : [-0.108, 0.108];
  const xt = wide ? lcTicksWide : lcTicksNarrow;
  const xf = wide ? f3 : f2;
  const showY = i === 0 || i === 2 || i === 4;
  const modelDs = (color: string, width: number) => ({
    data: pts(LC_MT[i], LC_MF[i]), showLine: true, pointRadius: 0, borderColor: color, borderWidth: width,
    cubicInterpolationMode: LC_SMOOTH[i] ? "monotone" : "default",
  });
  specs.push({
    l: B.l, r: B.r, t: B.t, b: B.m, x: xr, y: [0.93, 1.05], xt, yt: fluxTicks, yf: showY ? f2 : undefined, sides: "lr",
    datasets: [
      modelDs(MODEL, 1.6),
      modelDs(BAND, LC_BAND[i]),
      { data: pts(LC_T[i], LC_F[i]), pointRadius: 1.6, pointBackgroundColor: DOT },
      { data: [{ x: typErrT[i], y: typErrF[i] }], pointRadius: 2.6, pointBackgroundColor: "#000", errs: [typErrSize[i]], errColor: "#000", errWidth: 1.8 },
    ],
  });
  specs.push({
    l: B.l, r: B.r, t: B.m, b: B.b, x: xr, y: [-0.025, 0.025], xt, yt: resTicks, xf, yf: showY ? f2 : undefined, sides: "lrtb",
    datasets: [{ data: pts(LC_T[i], LC_R[i]), pointRadius: 1.6, pointBackgroundColor: DOT }],
    legend: {
      box: [Lg[0], Lg[1], Lg[2], Lg[3]], font: "17px 'DejaVu Serif'",
      items: [{ kind: "dot", color: DOT, text: medianText[i], mx: Lg[4], tx: Lg[5], y: (Lg[1] + Lg[3]) / 2, r: 1.6 }],
    },
  });
}

const TEXTS: { t: string; x: number; y: number; size: number; rot?: boolean; lh?: number }[] = [
  { t: "a) RV timeseries", x: 442, y: 37, size: 23 },
  { t: "b) Phase-folded RV curve", x: 1045.5, y: 13, size: 23 },
  { t: "Phase [days]", x: 1045.5, y: 36, size: 17 },
  { t: "BJD-2459000 (days)", x: 442, y: 415, size: 17 },
  { t: "Phase", x: 1045.5, y: 415, size: 17 },
  { t: "RV [m/s]", x: 22, y: 172, size: 16.5, rot: true },
  { t: "Residuals", x: 22, y: 330, size: 16.5, rot: true },
  { t: "RV [m/s]", x: 826, y: 225, size: 16.5, rot: true },
  { t: "c) TESS S6 (1800s)", x: 354.5, y: 452, size: 23 },
  { t: "d) TESS S33 (600s)", x: 932.5, y: 452, size: 23 },
  { t: "e) LCOGT 20211003 SDSS i' (180s)", x: 354.5, y: 852, size: 23 },
  { t: "f) LCOGT 20211003 SDSS g' (300s)", x: 932.5, y: 852, size: 23 },
  { t: "g) TMMT 20211228\nBessell I (120s)", x: 258, y: 1239, size: 23, lh: 26 },
  { t: "h) TMMT 20220115\nBessell V (300s)", x: 643.5, y: 1239, size: 23, lh: 26 },
  { t: "i) LCRO 20220115\nSDSS i' (300s)", x: 1029, y: 1239, size: 23, lh: 26 },
  { t: "Relative Flux", x: 28.5, y: 572, size: 16.5, rot: true },
  { t: "Residuals", x: 17, y: 729.5, size: 16.5, rot: true },
  { t: "Relative Flux", x: 28.5, y: 972, size: 16.5, rot: true },
  { t: "Residuals", x: 17, y: 1129.5, size: 16.5, rot: true },
  { t: "Relative Flux", x: 28.5, y: 1371.5, size: 16.5, rot: true },
  { t: "Residuals", x: 18, y: 1528.5, size: 16.5, rot: true },
  { t: "Time since transit [days]", x: 643, y: 1617, size: 23 },
];

function Panel({ spec }: { spec: Spec }) {
  const ref = useRef<HTMLCanvasElement>(null);
  const g = geom(spec);
  useEffect(() => {
    const chart = makeChart(ref.current as HTMLCanvasElement, spec);
    return () => chart.destroy();
  }, [spec]);
  return (
    <canvas
      ref={ref}
      width={g.W}
      height={g.H}
      style={{ position: "absolute", left: g.ox, top: g.oy, width: g.W, height: g.H }}
    />
  );
}

export default function App() {
  return (
    <div style={{ position: "absolute", left: 0, top: 0, width: 1227, height: 1632, background: "#fff", overflow: "hidden" }}>
      {specs.map((s, i) => (
        <Panel key={i} spec={s} />
      ))}
      {TEXTS.map((tx, i) => (
        <div
          key={"t" + i}
          style={{
            position: "absolute",
            left: tx.x,
            top: tx.y,
            transform: "translate(-50%, -50%)" + (tx.rot ? " rotate(-90deg)" : ""),
            fontFamily: SERIF,
            fontWeight: 700,
            fontSize: tx.size,
            lineHeight: tx.lh ? tx.lh + "px" : "1.15",
            whiteSpace: "pre",
            textAlign: "center",
            color: "#000",
          }}
        >
          {tx.t}
        </div>
      ))}
    </div>
  );
}
